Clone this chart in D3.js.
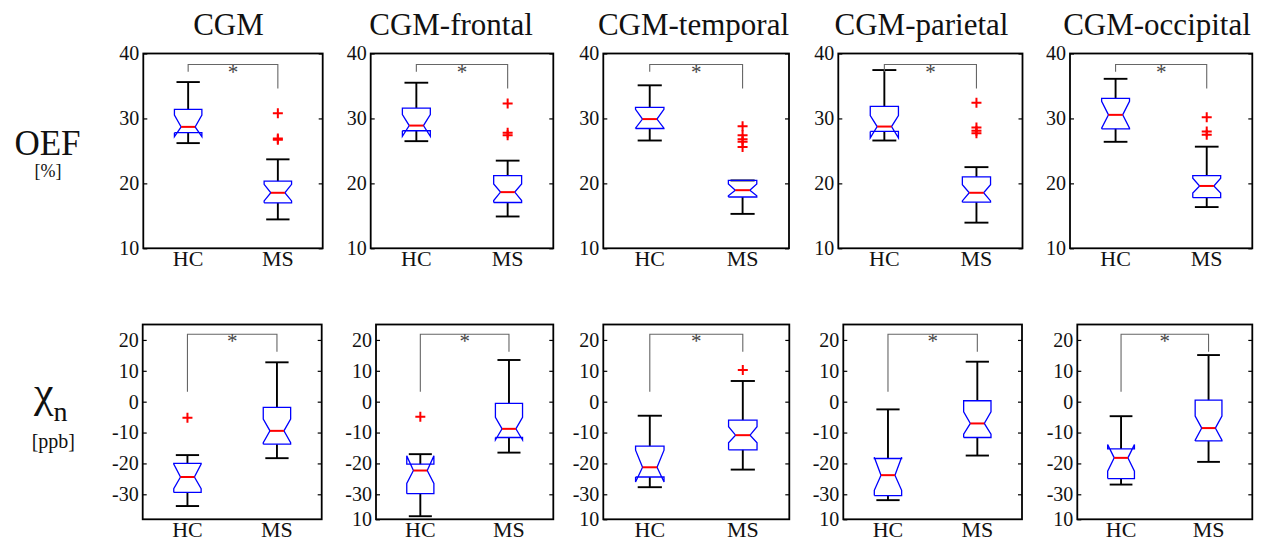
<!DOCTYPE html>
<html lang="en">
<head>
<meta charset="UTF-8">
<title>OEF and chi_n in CGM regions</title>
<script src="https://d3js.org/d3.v7.min.js"></script>
<style>
    body { margin: 0; background: white; }
    svg { display: block; background: white; }
    text { font-family: "Liberation Serif", "Times New Roman", serif; fill: #111; }
    .axis text { font-size: 20px; }
    .axis line { stroke: black; stroke-width: 1.2px; }
    .axis path { display: none; }
    .frame { fill: none; stroke: black; stroke-width: 1.8px; }
    .box { fill: none; stroke: #0000ff; stroke-width: 1.3px; }
    .median { stroke: #ff0000; stroke-width: 2px; }
    .whisker { stroke: black; stroke-width: 1.9px; }
    .outlier { stroke: #ff0000; stroke-width: 2px; }
    .bracket { fill: none; stroke: #666; stroke-width: 1.1px; }
</style>
</head>
<body>
<script>
// categories and labels
const regions = ["CGM", "CGM-frontal", "CGM-temporal", "CGM-parietal", "CGM-occipital"];
const groups = ["HC", "MS"];
const oefTicks = [10, 20, 30, 40];
const chiTicks = [20, 10, 0, -10, -20, -30];
const chiExtraLabel = "10";   // stray label at the bottom of panels 2-5
const oefDomain = [10, 40];
const chiDomain = [-38.1, 25];

// box stats per region: [lowWhisker, q1, notchLow, median, notchHigh, q3, highWhisker]
const oefHC = [
    [26.2, 27.8, 27.2, 28.7, 30.5, 31.4, 35.6],
    [26.5, 28.1, 27.25, 28.9, 30.6, 31.6, 35.5],
    [26.6, 28.45, 28.5, 29.9, 31.4, 31.7, 35.1],
    [26.6, 28.0, 27.0, 28.75, 30.45, 31.85, 37.45],
    [26.4, 28.4, 28.5, 30.55, 32.65, 33.1, 36.1]
];
const oefMS = [
    [14.45, 17.0, 17.3, 18.55, 19.85, 20.35, 23.7],
    [14.9, 17.05, 17.35, 18.65, 19.9, 21.2, 23.5],
    [15.3, 17.9, 18.1, 18.95, 19.9, 20.45, 20.45],
    [13.95, 17.1, 17.3, 18.55, 19.8, 21.0, 22.5],
    [16.35, 17.8, 18.5, 19.6, 20.8, 21.2, 25.65]
];
const chiHC = [
    [-33.8, -29.4, -28.2, -24.4, -20.2, -20.0, -17.3],
    [-37.1, -29.8, -26.5, -22.3, -17.55, -20.25, -17.0],
    [-27.7, -24.4, -26.0, -21.25, -15.7, -14.4, -4.55],
    [-31.9, -30.4, -28.7, -23.8, -18.0, -18.4, -2.5],
    [-26.85, -24.9, -22.5, -18.2, -13.9, -15.3, -4.7]
];
const chiMS = [
    [-18.3, -13.75, -13.3, -9.45, -5.65, -1.85, 12.75],
    [-16.5, -11.6, -12.4, -8.8, -5.1, -0.55, 13.5],
    [-22.0, -15.6, -13.3, -10.85, -8.1, -5.95, 6.7],
    [-17.45, -11.6, -10.5, -7.05, -3.3, 0.3, 12.95],
    [-19.5, -12.7, -12.45, -8.55, -4.7, 0.5, 15.1]
];

// outliers per region
const oefHCOutliers = [[], [], [], [], []];
const oefMSOutliers = [
    [30.8, 26.9, 26.7],
    [32.3, 27.8, 27.4],
    [28.8, 27.4, 26.8, 26.4, 25.6],
    [32.4, 28.6, 28.1, 27.7],
    [30.2, 28.0, 27.5]
];
const chiHCOutliers = [[-5.2], [-4.9], [], [], []];
const chiMSOutliers = [[], [], [10.25], [], []];

// significance bracket: [top, HC leg end, MS leg end]
const oefBracket = [38.3, 37.2, 34.6];
const chiBracket = [21.85, 3.2, 16.2];

// layout
const width = 1261, height = 542;
const topRow = {y0: 53.5, y1: 248.3, x: [[143.3, 322.7], [370.7, 553.3], [603.3, 789], [838.3, 1022.5], [1070, 1252.3]]};
const botRow = {y0: 324.5, y1: 519.3, x: [[142.7, 321.7], [376, 553.3], [603.3, 789.3], [843.3, 1022], [1077.3, 1252.3]]};
const titleX = [228.5, 451, 693.5, 921.5, 1157];
const boxHalf = 0.153, notchHalf = 0.078, capHalf = 0.13;

const svg = d3.select("body").append("svg")
    .attr("width", width)
    .attr("height", height);

function drawPanel(row, i, domain, ticks, hcStats, msStats, hcOut, msOut, bracket, extraTick) {
    const [x0, x1] = row.x[i];
    const xScale = d3.scaleLinear().domain([0.5, 2.5]).range([x0, x1]);
    const yScale = d3.scaleLinear().domain(domain).range([row.y1, row.y0]);
    const g = svg.append("g");

    //axes with inward ticks
    const tv = extraTick ? ticks.concat([domain[0]]) : ticks;
    g.append("g").attr("class", "axis")
        .attr("transform", `translate(${x0},0)`)
        .call(d3.axisLeft(yScale).tickValues(tv).tickSize(-4).tickPadding(4)
            .tickFormat(d => d === domain[0] && extraTick ? chiExtraLabel : d));
    g.append("g").attr("class", "axis")
        .attr("transform", `translate(${x1},0)`)
        .call(d3.axisRight(yScale).tickValues(ticks).tickSize(-4).tickFormat(""));

    g.append("rect").attr("class", "frame")
        .attr("x", x0).attr("y", row.y0)
        .attr("width", x1 - x0).attr("height", row.y1 - row.y0);

    //x labels
    g.selectAll(".xlab").data(groups).enter().append("text")
        .attr("x", (d, k) => xScale(k + 1))
        .attr("y", row.y1 + 18)
        .attr("text-anchor", "middle")
        .style("font-size", "22px")
        .text(d => d);

    //boxes
    [hcStats, msStats].forEach((s, k) => {
        const c = k + 1;
        const [wlo, q1, nlo, med, nhi, q3, whi] = s;
        const L = xScale(c - boxHalf), R = xScale(c + boxHalf);
        const nL = xScale(c - notchHalf), nR = xScale(c + notchHalf);
        const pts = [[L, q1], [L, nlo], [nL, med], [L, nhi], [L, q3], [R, q3], [R, nhi], [nR, med], [R, nlo], [R, q1], [L, q1]]
            .map(p => [p[0], yScale(p[1])]);
        // whiskers
        g.append("line").attr("class", "whisker")
            .attr("x1", xScale(c)).attr("x2", xScale(c))
            .attr("y1", yScale(q3)).attr("y2", yScale(whi));
        g.append("line").attr("class", "whisker")
            .attr("x1", xScale(c)).attr("x2", xScale(c))
            .attr("y1", yScale(q1)).attr("y2", yScale(wlo));
        [wlo, whi].forEach(w => {
            g.append("line").attr("class", "whisker")
                .attr("x1", xScale(c - capHalf)).attr("x2", xScale(c + capHalf))
                .attr("y1", yScale(w)).attr("y2", yScale(w));
        });
        g.append("path").attr("class", "box").attr("d", d3.line()(pts));
        g.append("line").attr("class", "median")
            .attr("x1", nL).attr("x2", nR)
            .attr("y1", yScale(med)).attr("y2", yScale(med));
    });

    //outliers
    [hcOut, msOut].forEach((o, k) => {
        const cx = xScale(k + 1);
        o.forEach(v => {
            const cy = yScale(v);
            g.append("path").attr("class", "outlier")
                .attr("d", `M${cx - 5},${cy}H${cx + 5}M${cx},${cy - 5}V${cy + 5}`);
        });
    });

    //significance bracket
    const [bTop, bHC, bMS] = bracket;
    g.append("path").attr("class", "bracket")
        .attr("d", d3.line()([[xScale(1), yScale(bHC)], [xScale(1), yScale(bTop)], [xScale(2), yScale(bTop)], [xScale(2), yScale(bMS)]]));
    g.append("text")
        .attr("x", xScale(1.5))
        .attr("y", yScale(bTop) + 14)
        .attr("text-anchor", "middle")
        .style("font-size", "21px")
        .style("fill", "#444")
        .text("*");

    return xScale;
}

regions.forEach((r, i) => {
    drawPanel(topRow, i, oefDomain, oefTicks, oefHC[i], oefMS[i], oefHCOutliers[i], oefMSOutliers[i], oefBracket, false);
    drawPanel(botRow, i, chiDomain, chiTicks, chiHC[i], chiMS[i], chiHCOutliers[i], chiMSOutliers[i], chiBracket, i > 0);
    svg.append("text")
        .attr("x", titleX[i])
        .attr("y", 35)
        .attr("text-anchor", "middle")
        .style("font-size", "31px")
        .text(r);
});

//row labels
svg.append("text").attr("x", 47.5).attr("y", 155)
    .attr("text-anchor", "middle").style("font-size", "35px").text("OEF");
svg.append("text").attr("x", 48).attr("y", 177)
    .attr("text-anchor", "middle").style("font-size", "18px").text("[%]");
const chiLab = svg.append("text").attr("x", 34).attr("y", 407).style("font-size", "44px");
chiLab.append("tspan").text("\u03C7");
chiLab.append("tspan").attr("y", 420.5).style("font-size", "28px").text("n");
svg.append("text").attr("x", 53.3).attr("y", 448)
    .attr("text-anchor", "middle").style("font-size", "20px").text("[ppb]");
</script>
</body>
</html>
